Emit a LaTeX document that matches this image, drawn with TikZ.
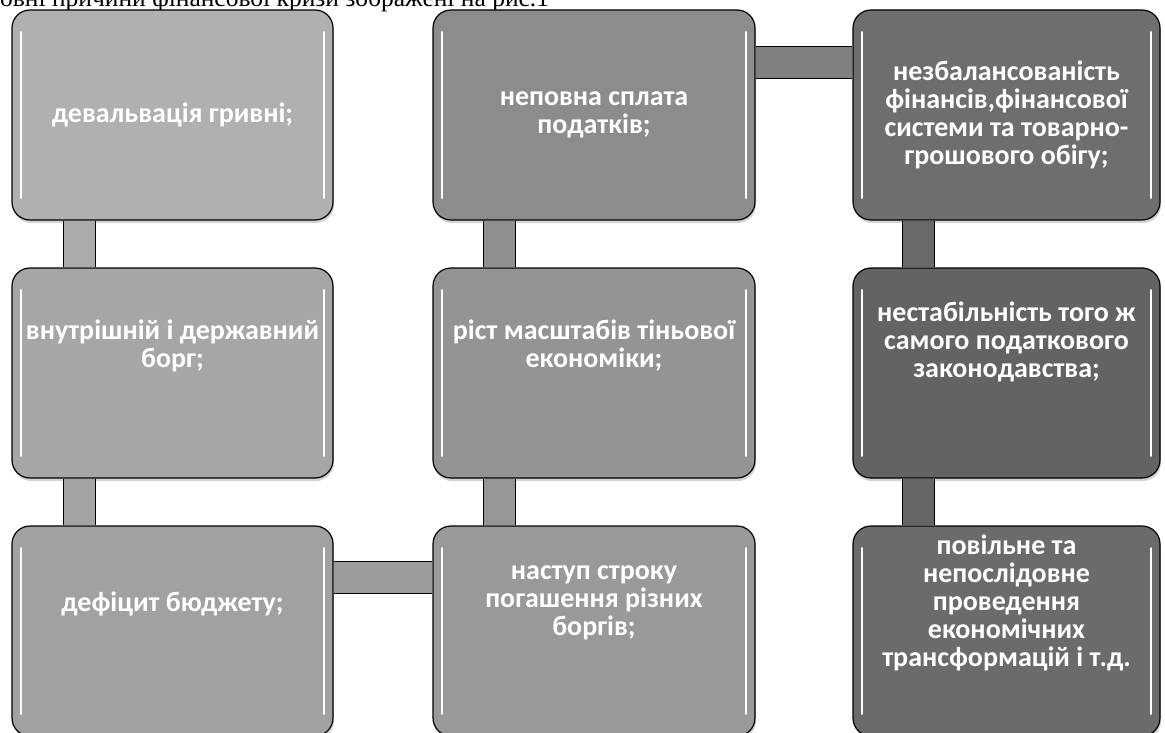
\documentclass[tikz,border=0pt]{standalone}
\usepackage{fontspec}
\setmainfont{Liberation Serif}
\newfontfamily\boxfont{Carlito}
\usetikzlibrary{shadows}

\tikzset{
  cause/.style={draw=black,line width=1.2pt,rounded corners=18pt,
    minimum width=321pt,minimum height=210pt,inner sep=2pt,
    drop shadow={opacity=0.35,shadow xshift=1pt,shadow yshift=-3pt},
    path picture={
      \draw[white,line width=2pt,line cap=round]
        ([xshift=9pt,yshift=-22pt]path picture bounding box.north west)--
        ([xshift=9pt,yshift=22pt]path picture bounding box.south west)
        ([xshift=-9pt,yshift=-22pt]path picture bounding box.north east)--
        ([xshift=-9pt,yshift=22pt]path picture bounding box.south east);}},
  tag/.style={text=white,align=center,inner sep=0pt,
    font=\boxfont\bfseries\fontsize{28}{28}\selectfont},
  bar/.style={draw=black,line width=1.2pt,double distance=31pt}
}

\begin{document}
\begin{tikzpicture}[x=1pt,y=-1pt]

    \clip(0,0)rectangle(1165,733);
    \node[anchor=base west,inner sep=0pt,font=\fontsize{25.5}{25.5}\selectfont](t)at(0,7){овні причини фінансової кризи зображені на рис.1};

    % ліва колонка
    \node[cause,fill=black!31,label={[tag]center:{девальвація гривні;}}](a)at(172.5,115){};

    \node[cause,fill=black!35,label={[tag,yshift=27pt]center:{внутрішній і державний\\борг;}}](b)at(172.5,373){};

    \node[cause,fill=black!37,label={[tag,yshift=27pt]center:{дефіцит бюджету;}}](c)at(172.5,631){};

    % середня колонка
    \node[cause,fill=black!40,minimum width=322pt,label={[tag,yshift=28pt]center:{наступ строку\\погашення різних\\боргів;}}](d)at(594,631){};

    \node[cause,fill=black!42,minimum width=322pt,label={[tag,yshift=27pt]center:{ріст масштабів тіньової\\економіки;}}](e)at(594,373){};

    \node[cause,fill=black!45,minimum width=322pt,label={[tag]center:{неповна сплата\\податків;}}](f)at(594,115){};

    % права колонка
    \node[cause,fill=black!57,minimum width=307pt,label={[tag]center:{незбалансованість\\фінансів,фінансової\\системи та товарно-\\грошового обігу;}}](g)at(1006.5,115){};

    \node[cause,fill=black!61,minimum width=307pt,label={[tag,yshift=31pt]center:{нестабільність того ж\\самого податкового\\законодавства;}}](h)at(1006.5,373){};

    \node[cause,fill=black!58,minimum width=307pt,label={[tag,yshift=28pt]center:{повільне та\\непослідовне\\проведення\\економічних\\трансформацій і т.д.}}](i)at(1006.5,631){};

    \draw[bar,double=black!33]([xshift=68pt]a.south west)--([xshift=68pt]b.north west);
    \draw[bar,double=black!36]([xshift=68pt]b.south west)--([xshift=68pt]c.north west);
    \draw[bar,double=black!39]([yshift=-52pt]c.north east)--([yshift=-52pt]d.north west);
    \draw[bar,double=black!41]([xshift=67pt]d.north west)--([xshift=67pt]e.south west);
    \draw[bar,double=black!44]([xshift=67pt]e.north west)--([xshift=67pt]f.south west);
    \draw[bar,double=black!50]([yshift=-53pt]f.north east)--([yshift=-53pt]g.north west);
    \draw[bar,double=black!59]([xshift=66pt]g.south west)--([xshift=66pt]h.north west);
    \draw[bar,double=black!60]([xshift=66pt]h.south west)--([xshift=66pt]i.north west);

\end{tikzpicture}
\end{document}
